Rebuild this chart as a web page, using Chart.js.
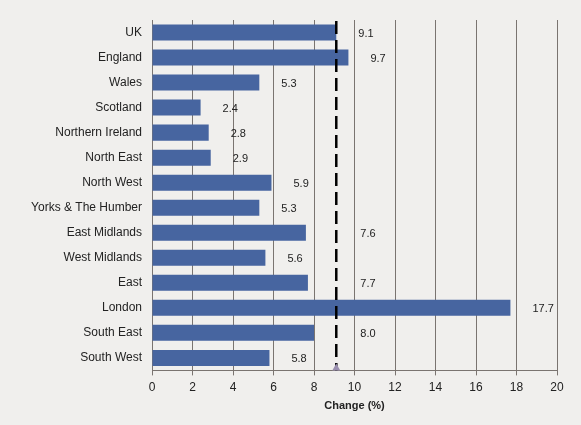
<!DOCTYPE html>
<html>
<head>
<meta charset="utf-8">
<script src="https://cdn.jsdelivr.net/npm/chart.js@4"></script>
<style>
  html, body { margin: 0; padding: 0; background: #f0efed; }
  #wrap { width: 581px; height: 425px; }
</style>
</head>
<body>
<div id="wrap"><canvas id="chart" width="581" height="425"></canvas></div>
<script>
// regions and % change
const regions = ['UK', 'England', 'Wales', 'Scotland', 'Northern Ireland', 'North East',
  'North West', 'Yorks & The Humber', 'East Midlands', 'West Midlands', 'East',
  'London', 'South East', 'South West'];
const change = [9.1, 9.7, 5.3, 2.4, 2.8, 2.9, 5.9, 5.3, 7.6, 5.6, 7.7, 17.7, 8.0, 5.8];
const xTicks = [0, 2, 4, 6, 8, 10, 12, 14, 16, 18, 20];
const ukAverage = change[0];

// value labels + UK reference line and marker
const extras = {
  id: 'extras',
  afterDatasetsDraw(chart) {
    const ctx = chart.ctx;
    const x = chart.scales.x;
    const area = chart.chartArea;
    const meta = chart.getDatasetMeta(0);
    const ux = x.getPixelForValue(ukAverage);

    ctx.save();
    ctx.font = '11px "Liberation Sans", Arial, sans-serif';
    ctx.fillStyle = '#222';
    ctx.textBaseline = 'middle';
    meta.data.forEach((bar, i) => {
      const txt = change[i].toFixed(1);
      const w = ctx.measureText(txt).width;
      let lx = bar.x + 22;
      // keep labels clear of the dashed line
      if (lx - 6 < ux + 6 && lx + w + 6 > ux) lx = ux + 24;
      ctx.fillText(txt, lx, bar.y + 1);
    });

    ctx.strokeStyle = '#000';
    ctx.lineWidth = 2.5;
    ctx.setLineDash([13, 6]);
    ctx.beginPath();
    ctx.moveTo(ux, area.top + 1);
    ctx.lineTo(ux, area.bottom);
    ctx.stroke();
    ctx.setLineDash([]);

    ctx.fillStyle = '#9a8fb0';
    ctx.beginPath();
    ctx.moveTo(ux, area.bottom - 7);
    ctx.lineTo(ux - 4, area.bottom);
    ctx.lineTo(ux + 4, area.bottom);
    ctx.closePath();
    ctx.fill();
    ctx.restore();
  }
};

new Chart(document.getElementById('chart'), {
  type: 'bar',
  data: {
    labels: regions,
    datasets: [{
      data: change,
      backgroundColor: '#4765a0',
      barPercentage: 0.64,
      categoryPercentage: 1
    }]
  },
  options: {
    indexAxis: 'y',
    responsive: false,
    animation: false,
    layout: { padding: { top: 20, right: 24, left: 0, bottom: 12 } },
    plugins: { legend: { display: false }, tooltip: { enabled: false } },
    scales: {
      x: {
        min: 0,
        max: 20,
        afterBuildTicks(axis) { axis.ticks = xTicks.map(v => ({ value: v })); },
        grid: { color: '#7a7470', lineWidth: 1, tickLength: 5, drawOnChartArea: true },
        border: { color: '#7a7470' },
        ticks: {
          color: '#222',
          padding: 5,
          font: { family: '"Liberation Sans", Arial, sans-serif', size: 12 }
        },
        title: {
          display: true,
          text: 'Change (%)',
          color: '#222',
          padding: { top: 0, bottom: 0 },
          font: { family: '"Liberation Sans", Arial, sans-serif', size: 11, weight: 'bold' }
        }
      },
      y: {
        afterFit(axis) { axis.width = 152; },
        grid: { display: false },
        border: { display: true, color: '#7a7470' },
        ticks: {
          color: '#222',
          padding: 2,
          font: { family: '"Liberation Sans", Arial, sans-serif', size: 12 }
        }
      }
    }
  },
  plugins: [extras]
});
</script>
</body>
</html>
